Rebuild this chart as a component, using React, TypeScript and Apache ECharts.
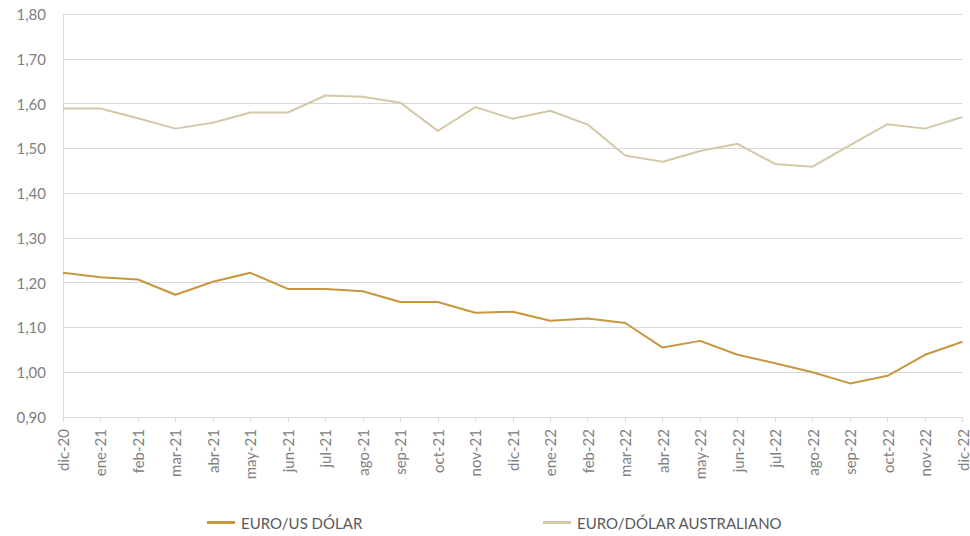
import React, { useEffect, useRef } from "react";
import * as echarts from "echarts";

const categories = [
  "dic-20", "ene-21", "feb-21", "mar-21", "abr-21", "may-21", "jun-21", "jul-21",
  "ago-21", "sep-21", "oct-21", "nov-21", "dic-21", "ene-22", "feb-22", "mar-22",
  "abr-22", "may-22", "jun-22", "jul-22", "ago-22", "sep-22", "oct-22", "nov-22", "dic-22",
];

const euroUsd = [
  1.222, 1.212, 1.207, 1.173, 1.202, 1.222, 1.186, 1.186,
  1.181, 1.157, 1.157, 1.133, 1.135, 1.115, 1.12, 1.11,
  1.055, 1.07, 1.039, 1.02, 1.0, 0.975, 0.992, 1.039, 1.068,
];

const euroAud = [
  1.589, 1.589, 1.567, 1.544, 1.557, 1.58, 1.58, 1.618,
  1.615, 1.602, 1.539, 1.592, 1.566, 1.584, 1.553, 1.484,
  1.47, 1.494, 1.51, 1.465, 1.459, 1.507, 1.554, 1.544, 1.57,
];

const seriesNames = ["EURO/US DÓLAR", "EURO/DÓLAR AUSTRALIANO"];
const FONT = "Lato, 'Open Sans', 'Liberation Sans', sans-serif";
const COLORS = ["#C8963E", "#D3C9A8"];

export default function App() {
  const ref = useRef<HTMLDivElement>(null);
  useEffect(() => {
    if (!ref.current) return;
    const chart = echarts.init(ref.current, null, { renderer: "svg" });
    const legendBase = {
      bottom: 6,
      padding: 0,
      itemWidth: 28,
      itemHeight: 3,
      itemGap: 5,
      icon: "rect",
      textStyle: { color: "#595959", fontSize: 15, fontFamily: FONT, padding: [0, 0, 0, 1] },
    };
    chart.setOption({
      animation: false,
      backgroundColor: "#ffffff",
      color: COLORS,
      grid: { left: 63, right: 6, top: 14, bottom: 119, containLabel: false },
      legend: [
        { ...legendBase, left: 207, data: [seriesNames[0]] },
        { ...legendBase, left: 543, data: [seriesNames[1]] },
      ],
      xAxis: {
        type: "category",
        data: categories,
        boundaryGap: false,
        axisLine: { show: true, lineStyle: { color: "#D9D9D9", width: 1 } },
        axisTick: { show: true, interval: 0, length: 5, lineStyle: { color: "#D9D9D9" } },
        axisLabel: {
          interval: 0,
          rotate: 90,
          margin: 12,
          color: "#808080",
          fontSize: 15,
          fontFamily: FONT,
        },
      },
      yAxis: {
        type: "value",
        min: 0.9,
        max: 1.8,
        interval: 0.1,
        axisLine: { show: true, lineStyle: { color: "#D9D9D9" } },
        axisTick: { show: false },
        splitLine: { show: true, lineStyle: { color: "#D9D9D9", width: 1 } },
        axisLabel: {
          margin: 17,
          color: "#808080",
          fontSize: 15,
          fontFamily: FONT,
          formatter: (v: number) => v.toFixed(2).replace(".", ","),
        },
      },
      series: [
        {
          name: seriesNames[0],
          type: "line",
          data: euroUsd,
          showSymbol: false,
          symbol: "none",
          lineStyle: { color: COLORS[0], width: 2 },
          itemStyle: { color: COLORS[0] },
        },
        {
          name: seriesNames[1],
          type: "line",
          data: euroAud,
          showSymbol: false,
          symbol: "none",
          lineStyle: { color: COLORS[1], width: 2 },
          itemStyle: { color: COLORS[1] },
        },
      ],
    });
    return () => chart.dispose();
  }, []);
  return <div ref={ref} style={{ width: 970, height: 536, position: "absolute", left: 0, top: 0 }} />;
}
